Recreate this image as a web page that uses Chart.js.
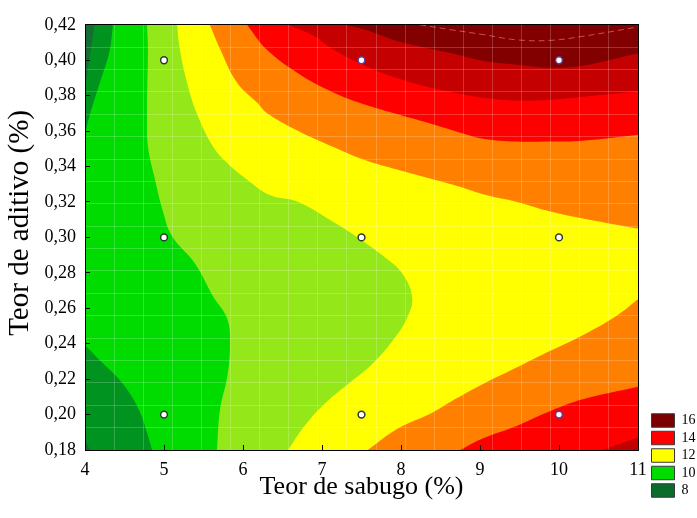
<!DOCTYPE html>
<html>
<head>
<meta charset="utf-8">
<script src="https://cdn.jsdelivr.net/npm/chart.js@4.4.0/dist/chart.umd.min.js"></script>
<style>
  html, body { margin: 0; padding: 0; background: #fff; }
  #wrap { width: 697px; height: 518px; }
</style>
</head>
<body>
<div id="wrap"><canvas id="contour"></canvas></div>
<script>
// axis ranges and tick labels
const xMin = 4, xMax = 11
const yMin = 0.18, yMax = 0.42
const xTickLabels = ['4', '5', '6', '7', '8', '9', '10', '11']
const yTickLabels = ['0,18', '0,20', '0,22', '0,24', '0,26', '0,28', '0,30', '0,32', '0,34', '0,36', '0,38', '0,40', '0,42']

// legend
const legendLabels = ['16', '14', '12', '10', '8']
const legendColors = ['#7d0000', '#ff0000', '#ffff00', '#00dc00', '#0b6b2b']

// design points (teor de sabugo, teor de aditivo)
const designX = [5, 5, 5, 7.5, 7.5, 7.5, 10, 10, 10]
const designY = [0.40, 0.30, 0.20, 0.40, 0.30, 0.20, 0.40, 0.30, 0.20]

// contour lines, [x, y] from edge to edge
const c8Top = [[4.12, 0.42], [4.07, 0.405], [4.02, 0.39], [4.0, 0.385]]
const c8Bottom = [[4.0, 0.1855], [4.065, 0.18]]
const c9Top = [[4.354, 0.42], [4.31, 0.405], [4.19, 0.3876], [4.063, 0.3695], [4.0, 0.358]]
const c9Bottom = [[4.0, 0.2393], [4.19, 0.2305], [4.405, 0.2212], [4.57, 0.2118], [4.70, 0.2009], [4.785, 0.1899], [4.85, 0.18]]
const c10 = [[4.785, 0.42], [4.797, 0.4063], [4.79, 0.3876], [4.785, 0.3695], [4.797, 0.3513], [4.886, 0.3327],
  [4.987, 0.3146], [5.10, 0.3008], [5.39, 0.2854], [5.62, 0.2668], [5.80, 0.2541], [5.835, 0.2393],
  [5.80, 0.2212], [5.71, 0.2031], [5.67, 0.18]]
const c11 = [[5.165, 0.42], [5.20, 0.4063], [5.29, 0.3876], [5.42, 0.3695], [5.62, 0.3513], [5.80, 0.342],
  [6.05, 0.3327], [6.34, 0.3239], [6.70, 0.32], [7.13, 0.3091], [7.45, 0.300], [7.80, 0.2887],
  [8.01, 0.280], [8.14, 0.2668], [8.09, 0.2558], [7.92, 0.2432], [7.63, 0.2283], [7.33, 0.2173],
  [7.04, 0.2064], [6.78, 0.1937], [6.57, 0.18]]
const c12Top = [[5.58, 0.42], [5.71, 0.4063], [5.92, 0.3876], [6.18, 0.376], [6.31, 0.370], [6.70, 0.3601],
  [7.13, 0.3513], [7.54, 0.3437], [7.96, 0.3382], [8.68, 0.3294], [9.04, 0.3244], [9.47, 0.32],
  [9.89, 0.3146], [10.30, 0.3107], [11, 0.305]]
const c12Bottom = [[7.58, 0.18], [7.96, 0.1921], [8.39, 0.2009], [8.68, 0.2086], [9.04, 0.2173], [9.47, 0.2267],
  [9.89, 0.236], [10.30, 0.2448], [10.73, 0.2558], [11, 0.2651]]
const c13Top = [[6.05, 0.42], [6.30, 0.406], [6.70, 0.3925], [7.13, 0.3821], [7.54, 0.375], [7.96, 0.3695],
  [8.39, 0.364], [8.68, 0.3601], [9.04, 0.3557], [9.47, 0.3541], [9.89, 0.3541], [10.30, 0.3546], [11, 0.358]]
const c13Bottom = [[8.75, 0.18], [9.04, 0.1866], [9.47, 0.1937], [9.89, 0.2020], [10.30, 0.2086], [11, 0.2157]]
const c14Top = [[6.57, 0.42], [6.91, 0.4134], [7.13, 0.4063], [7.54, 0.3969], [7.96, 0.3898], [8.39, 0.3843],
  [8.68, 0.3816], [9.04, 0.3788], [9.47, 0.3772], [9.89, 0.3777], [10.30, 0.3794], [11, 0.3825]]
const c14Bottom = [[10.55, 0.18], [11, 0.187]]
const c15Top = [[7.29, 0.42], [7.54, 0.4173], [7.96, 0.4107], [8.39, 0.4063], [8.68, 0.4035], [9.04, 0.3997],
  [9.47, 0.3975], [9.89, 0.3958], [10.30, 0.3969], [10.96, 0.4035], [11, 0.404]]
const c16Top = [[8.24, 0.42], [8.62, 0.4173], [9.04, 0.4145], [9.47, 0.4115], [9.89, 0.4112], [10.30, 0.4135],
  [10.96, 0.4185], [11, 0.419]]

const serif = 'Liberation Serif'
const meshColor = 'rgba(255,255,255,0.2)'

const pt = ([x, y]) => ({ x, y })

// closing the bands: carry each contour a step past the frame, then round
// the outside of the plot so only the smooth part is left inside the clip
const ext = (a, b) => [2 * a[0] - b[0], 2 * a[1] - b[1]]
const TLo = [xMin - 2, yMax + 0.2], TRo = [xMax + 2, yMax + 0.2]
const BLo = [xMin - 2, yMin - 0.2], BRo = [xMax + 2, yMin - 0.2]

let order = 100
const band = (curve, corners, color) => {
  const n = curve.length
  const ring = [ext(curve[0], curve[1]), ...curve, ext(curve[n - 1], curve[n - 2]), ...corners]
  return {
    data: ring.map(pt),
    showLine: true,
    fill: 'shape',
    backgroundColor: color,
    borderColor: 'transparent',
    borderWidth: 0,
    pointRadius: 0,
    tension: 0.4,
    capBezierPoints: false,
    order: order--,
  }
}

const datasets = [
  {
    data: [[xMin, yMax], [xMax, yMax], [xMax, yMin], [xMin, yMin]].map(pt),
    showLine: true,
    fill: 'shape',
    backgroundColor: '#00dc00',
    borderColor: 'transparent',
    borderWidth: 0,
    pointRadius: 0,
    order: order--,
  },
  band(c9Top, [TLo], '#00931f'),
  band(c9Bottom, [BLo], '#00931f'),
  band(c8Top, [TLo], '#176b34'),
  band(c8Bottom, [BLo], '#176b34'),
  band(c10, [BRo, TRo], '#94e81a'),
  band(c11, [BRo, TRo], '#ffff00'),
  band(c12Top, [TRo], '#ff8000'),
  band(c12Bottom, [BRo], '#ff8000'),
  band(c13Top, [TRo], '#ff0000'),
  band(c13Bottom, [BRo], '#ff0000'),
  band(c14Top, [TRo], '#c40000'),
  band(c14Bottom, [BRo], '#c40000'),
  band(c15Top, [TRo], '#820000'),
  {
    data: c16Top.map(pt),
    showLine: true,
    fill: false,
    borderColor: 'rgba(255,150,150,0.55)',
    borderWidth: 1,
    borderDash: [6, 4],
    pointRadius: 0,
    tension: 0.4,
    order: 1,
  },
  {
    data: designX.map((x, i) => ({ x, y: designY[i] })),
    pointRadius: 3.4,
    pointBackgroundColor: '#ffffff',
    pointBorderColor: designX.map((x, i) => (x === 5 || (x === 7.5 && designY[i] < 0.4) || (x === 10 && designY[i] === 0.3)) ? '#2b3a33' : '#5a3a9a'),
    pointBorderWidth: 1.5,
    order: 0,
  },
]

// fine white mesh over the map, as in the original plot
const meshGrid = {
  color: (ctx) => (ctx.index === 0 || ctx.index === 19) ? 'transparent' : meshColor,
  drawTicks: false,
  z: 1,
}

new Chart('contour', {
  type: 'scatter',
  data: { datasets },
  options: {
    responsive: true,
    maintainAspectRatio: false,
    animation: false,
    events: [],
    layout: { padding: { bottom: 17 } },
    plugins: {
      tooltip: { enabled: false },
      legend: {
        position: 'right',
        align: 'end',
        maxWidth: 49,
        labels: {
          boxWidth: 23,
          boxHeight: 13.5,
          padding: 3.5,
          color: '#000',
          font: { family: serif, size: 14 },
          generateLabels: () => legendLabels.map((t, i) => ({
            text: t,
            fillStyle: legendColors[i],
            strokeStyle: '#3a3a3a',
            lineWidth: 1,
            hidden: false,
            index: i,
          })),
        },
      },
    },
    scales: {
      x: {
        type: 'linear',
        position: 'bottom',
        min: xMin,
        max: xMax,
        ticks: {
          stepSize: 1,
          padding: 14,
          color: '#000',
          font: { family: serif, size: 18 },
          callback: (v, i) => xTickLabels[i],
        },
        grid: { drawOnChartArea: false, tickLength: -5, color: '#000', z: 2 },
        border: { color: '#000', width: 1, z: 2 },
        title: {
          display: true,
          text: 'Teor de sabugo (%)',
          color: '#000',
          font: { family: serif, size: 26 },
          padding: { top: 0, bottom: -2 },
        },
        afterFit: (s) => { s.height = 51 },
      },
      y: {
        type: 'linear',
        position: 'left',
        min: yMin,
        max: yMax,
        ticks: {
          stepSize: 0.02,
          padding: 14,
          color: '#000',
          font: { family: serif, size: 18 },
          callback: (v, i) => yTickLabels[i],
        },
        grid: { drawOnChartArea: false, tickLength: -5, color: '#000', z: 2 },
        border: { color: '#000', width: 1, z: 2 },
        title: {
          display: true,
          text: '    Teor de aditivo (%)',
          color: '#000',
          font: { family: serif, size: 29 },
          padding: { top: 3, bottom: 0 },
        },
        afterFit: (s) => { s.width = 85 },
      },
      x2: {
        type: 'linear',
        position: 'top',
        min: xMin,
        max: xMax,
        ticks: { display: false, count: 20 },
        grid: meshGrid,
        border: { color: '#000', width: 1, z: 2 },
        afterFit: (s) => { s.height = 13 },
      },
      y2: {
        type: 'linear',
        position: 'right',
        min: yMin,
        max: yMax,
        ticks: { display: false, count: 20 },
        grid: meshGrid,
        border: { color: '#000', width: 1, z: 2 },
        afterFit: (s) => { s.width = 10 },
      },
    },
  },
})
</script>
</body>
</html>
